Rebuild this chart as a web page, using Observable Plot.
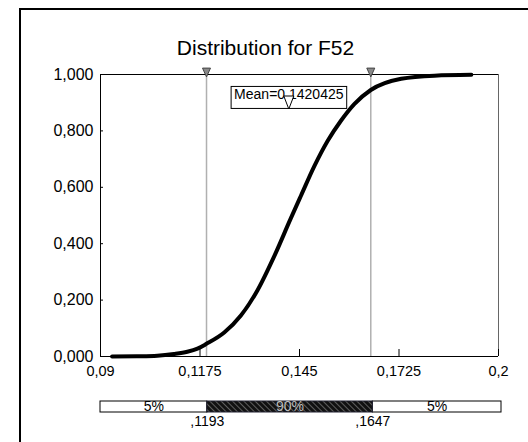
<!DOCTYPE html>
<html><head><meta charset="utf-8">
<script src="https://cdn.jsdelivr.net/npm/d3@7"></script>
<script src="https://cdn.jsdelivr.net/npm/@observablehq/plot@0.6"></script>
<style>
body{margin:0;background:#fff;}
#wrap{position:relative;width:528px;height:442px;overflow:hidden;font-family:"Liberation Sans",Arial,sans-serif;background:#fff;}
#border{position:absolute;left:19px;top:8px;width:700px;height:700px;border-left:2.5px solid #000;border-top:2.5px solid #000;}
#main{position:absolute;left:0;top:0;}
#strip{position:absolute;left:0;top:390px;}
</style></head><body>
<div id="wrap"><div id="border"></div><div id="main"></div><div id="strip"></div></div>
<script>
const title = "Distribution for F52";
const cdfX = [0.0932, 0.1, 0.1057, 0.1103, 0.114, 0.1168, 0.1193, 0.1242, 0.1288, 0.1334, 0.138, 0.1425, 0.1454, 0.1491, 0.1528, 0.1565, 0.1602, 0.1647, 0.1731, 0.1823, 0.1925];
const cdfY = [0.0, 0.001, 0.003, 0.009, 0.017, 0.028, 0.045, 0.085, 0.145, 0.235, 0.355, 0.487, 0.57, 0.675, 0.765, 0.837, 0.896, 0.945, 0.985, 0.996, 0.999];
const xTicks = [0.09, 0.1175, 0.145, 0.1725, 0.2];
const xTickLabels = ["0,09", "0,1175", "0,145", "0,1725", "0,2"];
const yTicks = [0, 0.2, 0.4, 0.6, 0.8, 1];
const yTickLabels = ["0,000", "0,200", "0,400", "0,600", "0,800", "1,000"];
const meanValue = 0.1420425;
const meanLabel = "Mean=0.1420425";
const pctValues = [0.1193, 0.1647];
const pctLabels = [",1193", ",1647"];
const segStart = [0.09, 0.1193, 0.1647];
const segEnd = [0.1193, 0.1647, 0.2];
const segLabels = ["5%", "90%", "5%"];

const cdf = cdfX.map((x, i) => ({x, y: cdfY[i]}));
const pcts = pctValues.map((v, i) => ({v, label: pctLabels[i]}));
const segs = segStart.map((s, i) => ({s, e: segEnd[i], label: segLabels[i]}));

function downTri(k) {
  return {draw(ctx, size) {
    const r = Math.sqrt(size / Math.PI);
    ctx.moveTo(-r, -r * k); ctx.lineTo(r, -r * k); ctx.lineTo(0, r * k); ctx.closePath();
  }};
}

const font = "Liberation Sans, Arial, sans-serif";

const main = Plot.plot({
  width: 528, height: 390,
  marginLeft: 100, marginRight: 30, marginTop: 74, marginBottom: 34,
  style: {fontFamily: font, fontSize: "14px", color: "black", background: "transparent"},
  x: {domain: [0.09, 0.2], axis: null},
  y: {domain: [0, 1], axis: null},
  marks: [
    Plot.ruleX(pctValues, {stroke: "#b0b0b0", strokeWidth: 1.5}),
    Plot.ruleY([0, 1], {stroke: "black", strokeWidth: 1}),
    Plot.ruleX([0.09], {stroke: "black", strokeWidth: 1}),
    Plot.ruleX([0.2], {stroke: "#666", strokeWidth: 1}),
    Plot.line(cdf, {x: "x", y: "y", stroke: "black", strokeWidth: 4, curve: "monotone-x"}),
    Plot.axisX({ticks: xTicks, tickFormat: (d, i) => xTickLabels[i], tickSize: -7, tickPadding: 16, fontSize: 14.5, anchor: "bottom", label: null}),
    Plot.axisY({ticks: yTicks, tickFormat: (d, i) => yTickLabels[i], tickSize: -3, tickPadding: 10, fontSize: 16, anchor: "left", label: null}),
    Plot.dot(pctValues, {x: d => d, frameAnchor: "top", dy: -2, symbol: downTri(1.1), r: 4, fill: "#8a8a8a", stroke: "#444", strokeWidth: 1}),
    Plot.text([{v: meanValue, label: meanLabel}], {x: "v", text: "label", frameAnchor: "top", dy: 15, fontSize: 14}),
    Plot.dot([meanValue], {x: d => d, frameAnchor: "top", dy: 28, symbol: downTri(1.3), r: 5, fill: "white", stroke: "black", strokeWidth: 1}),
    Plot.text([title], {frameAnchor: "top", dx: -34, dy: -34, fontSize: 21})
  ]
});
document.getElementById("main").appendChild(main);

// box around the mean label
d3.select(main).selectAll("text").each(function() {
  if (this.textContent === meanLabel) {
    const b = this.getBBox();
    const pad = 3;
    const g = this.parentNode;
    d3.select(g).insert("rect", () => this)
      .attr("transform", this.getAttribute("transform"))
      .attr("x", b.x - pad).attr("y", b.y).attr("width", b.width + 2 * pad).attr("height", b.height + 2 * pad)
      .attr("fill", "white").attr("stroke", "black").attr("stroke-width", 1);
  }
});

const strip = Plot.plot({
  width: 528, height: 52,
  marginLeft: 100, marginRight: 27, marginTop: 11, marginBottom: 30,
  style: {fontFamily: font, fontSize: "14px", color: "black", background: "transparent", overflow: "visible"},
  x: {domain: [0.09, 0.2], axis: null},
  y: {domain: [0, 1], axis: null},
  marks: [
    Plot.rect(segs.filter((d, i) => i !== 1), {x1: "s", x2: "e", y1: 0, y2: 1, fill: "white", stroke: "black", strokeWidth: 1}),
    Plot.rect(segs.filter((d, i) => i === 1), {x1: "s", x2: "e", y1: 0, y2: 1, fill: "url(#hatch)", stroke: "#223", strokeWidth: 1}),
    Plot.text(segs.filter((d, i) => i !== 1), {x: d => (d.s + d.e) / 2, y: 0.5, text: "label", fontSize: 14, fill: "black"}),
    Plot.text(segs.filter((d, i) => i === 1), {x: d => (d.s + d.e) / 2, y: 0.5, text: "label", fontSize: 14, fill: "#bbb"}),
    Plot.text(pcts, {x: "v", y: 0, text: "label", lineAnchor: "top", dy: 4, fontSize: 14})
  ]
});
const defs = d3.select(strip).insert("defs", ":first-child");
const pat = defs.append("pattern").attr("id", "hatch").attr("patternUnits", "userSpaceOnUse")
  .attr("width", 4).attr("height", 4).attr("patternTransform", "rotate(-45)");
pat.append("rect").attr("width", 4).attr("height", 4).attr("fill", "#111");
pat.append("line").attr("x1", 0).attr("y1", 0).attr("x2", 0).attr("y2", 4).attr("stroke", "#aaa").attr("stroke-width", 1);
document.getElementById("strip").appendChild(strip);
</script>
</body></html>
